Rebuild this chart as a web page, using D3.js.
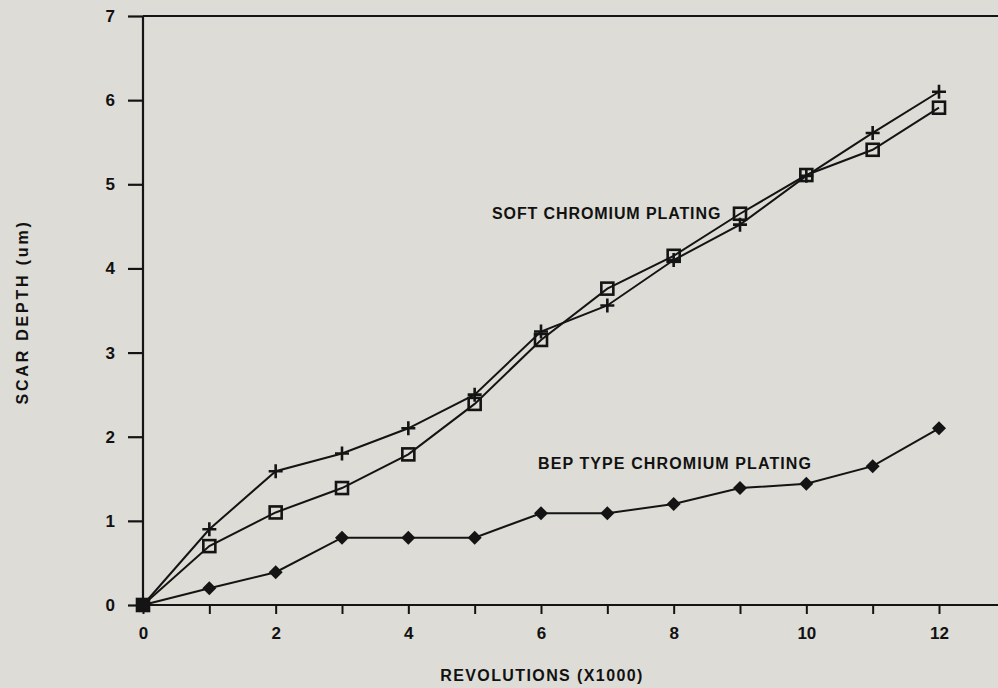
<!DOCTYPE html>
<html>
<head>
<meta charset="utf-8">
<script src="https://cdn.jsdelivr.net/npm/d3@7"></script>
<style>
  html, body { margin: 0; padding: 0; background: #dddcd6; }
  svg text { font-family: "Liberation Sans", Arial, sans-serif; font-weight: bold; fill: #111; }
</style>
</head>
<body>
<div id="chart"></div>
<script>
// revolutions (x1000)
const revolutions = [0, 1, 2, 3, 4, 5, 6, 7, 8, 9, 10, 11, 12];
// scar depth (um)
const softPlus   = [0, 0.90, 1.59, 1.80, 2.10, 2.50, 3.25, 3.56, 4.10, 4.52, 5.10, 5.61, 6.10];
const softSquare = [0, 0.70, 1.10, 1.39, 1.79, 2.39, 3.15, 3.76, 4.15, 4.65, 5.11, 5.41, 5.91];
const bepDiamond = [0, 0.20, 0.39, 0.80, 0.80, 0.80, 1.09, 1.09, 1.20, 1.39, 1.44, 1.65, 2.10];
const xTickLabels = [0, 2, 4, 6, 8, 10, 12];
const yTickValues = [0, 1, 2, 3, 4, 5, 6, 7];

const W = 998, H = 688;
const margin = { top: 16, left: 143, bottom: 83 };
const plotH = H - margin.top - margin.bottom;

const svg = d3.select('#chart').append('svg')
  .attr('width', W).attr('height', H);

const x = d3.scaleLinear().domain([0, 12]).range([margin.left, 939]);
const y = d3.scaleLinear().domain([0, 7]).range([margin.top + plotH, margin.top]);

const ink = '#141414';

// frame: left axis, top line, bottom axis (right side runs off the page)
svg.append('line').attr('x1', x(0)).attr('x2', W).attr('y1', y(0)).attr('y2', y(0))
  .attr('stroke', ink).attr('stroke-width', 2.2);
svg.append('line').attr('x1', x(0)).attr('x2', W).attr('y1', y(7)).attr('y2', y(7))
  .attr('stroke', ink).attr('stroke-width', 2.2);
svg.append('line').attr('x1', x(0)).attr('x2', x(0)).attr('y1', y(0)).attr('y2', y(7))
  .attr('stroke', ink).attr('stroke-width', 2.2);

// y axis ticks
const yAxis = d3.axisLeft(y).tickValues(yTickValues).tickSize(15).tickPadding(13)
  .tickFormat(d3.format('d'));
const gy = svg.append('g').attr('transform', `translate(${x(0)},0)`).call(yAxis);
gy.select('.domain').remove();
gy.selectAll('.tick line').attr('stroke', ink).attr('stroke-width', 2.2);
gy.selectAll('.tick text').attr('font-size', 17).attr('fill', ink);

// x axis ticks (every 1000, labels every 2000)
const xAxis = d3.axisBottom(x).tickValues(d3.range(0, 14)).tickSize(9).tickPadding(13)
  .tickFormat(d => xTickLabels.includes(d) ? d : '');
const gx = svg.append('g').attr('transform', `translate(0,${y(0)})`).call(xAxis);
gx.select('.domain').remove();
gx.selectAll('.tick line').attr('stroke', ink).attr('stroke-width', 2);
gx.selectAll('.tick text').attr('font-size', 17).attr('fill', ink);

// axis titles
svg.append('text').attr('x', 542).attr('y', 681).attr('text-anchor', 'middle')
  .attr('font-size', 16).attr('letter-spacing', 1.4).text('REVOLUTIONS (X1000)');
svg.append('text').attr('transform', 'translate(28,312) rotate(-90)')
  .attr('text-anchor', 'middle').attr('font-size', 16).attr('letter-spacing', 2.8)
  .text('SCAR DEPTH (um)');

const line = d3.line().x((d, i) => x(revolutions[i])).y(d => y(d));

function drawSeries(values, marker) {
  svg.append('path').datum(values).attr('d', line)
    .attr('fill', 'none').attr('stroke', ink).attr('stroke-width', 2);
  const g = svg.append('g');
  values.forEach((v, i) => {
    const cx = x(revolutions[i]), cy = y(v);
    if (marker === 'plus') {
      g.append('path').attr('d', `M${cx - 7},${cy}H${cx + 7}M${cx},${cy - 7}V${cy + 7}`)
        .attr('stroke', ink).attr('stroke-width', 2.6);
    } else if (marker === 'square') {
      g.append('rect').attr('x', cx - 6).attr('y', cy - 6).attr('width', 12).attr('height', 12)
        .attr('fill', 'none').attr('stroke', ink).attr('stroke-width', 2.6);
    } else {
      g.append('path').attr('d', `M${cx},${cy - 7}L${cx + 7},${cy}L${cx},${cy + 7}L${cx - 7},${cy}Z`)
        .attr('fill', ink);
    }
  });
}

drawSeries(bepDiamond, 'diamond');
drawSeries(softSquare, 'square');
drawSeries(softPlus, 'plus');

// origin point where all three series meet
svg.append('rect').attr('x', x(0) - 7).attr('y', y(0) - 7).attr('width', 14).attr('height', 14)
  .attr('fill', ink);

// series labels
svg.append('text').attr('x', 492).attr('y', 219).attr('font-size', 16).attr('letter-spacing', 0.9)
  .text('SOFT CHROMIUM PLATING');
svg.append('text').attr('x', 538).attr('y', 469).attr('font-size', 16).attr('letter-spacing', 1.1)
  .text('BEP TYPE CHROMIUM PLATING');
</script>
</body>
</html>
